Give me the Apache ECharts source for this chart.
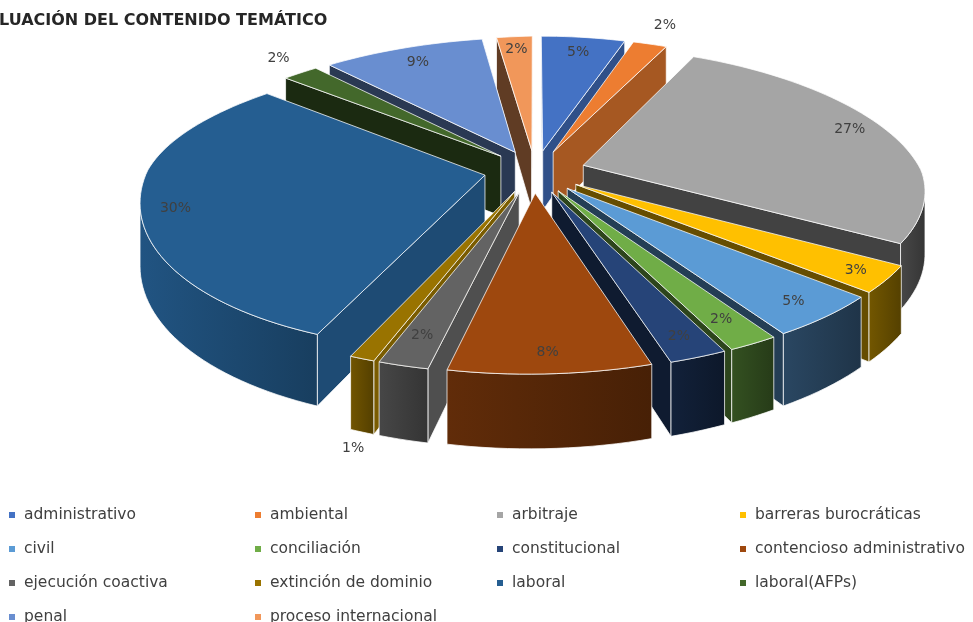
<!DOCTYPE html>
<html><head><meta charset="utf-8">
<style>html,body{margin:0;padding:0;background:#fff}#c{width:973px;height:622px}</style>
<script src="https://cdn.jsdelivr.net/npm/echarts@6/dist/echarts.min.js"></script>
</head><body><div id="c"></div>
<script>
const categories = ['administrativo','ambiental','arbitraje','barreras burocráticas','civil','conciliación','constitucional','contencioso administrativo','ejecución coactiva','extinción de dominio','laboral','laboral(AFPs)','penal','proceso internacional'];
const shares = [5,2,27,3,4.7,2,2.3,8,2,1,30,2,9,2];
const colors = ['#4472C4','#ED7D31','#A5A5A5','#FFC000','#5B9BD5','#70AD47','#264478','#9E480E','#636363','#997300','#255E91','#43682B','#698ED0','#F1975A'];
const legendColumns = [[0,4,8,12],[1,5,9,13],[2,6,10],[3,7,11]];
const legendX = [9,255,497,740];

const CX=535, CY=171, R=338, K=139, P=0.16, H=61, EXPLODE=0.15;
const labelFrac = [.85,1.2,.865,.91,.89,.86,.89,.9,.85,1,.9,1.14,.85,.87];
const labelNudge = {9:[-9,90],10:[0,6],2:[4,-4],11:[3,-4]};
const total = shares.reduce((a,b)=>a+b,0);
const starts=[]; shares.reduce((a,v,i)=>{starts[i]=a;return a+v;},0);

function proj(u,v,dy){
  const f=1/(1-v*P);
  let x=CX+u*R*f, y=CY+v*K*f+(dy||0)*f;
  if(v>0){ x+=11.5*v*v; y+=v*(6-10*u); }
  else { x+=16*v*Math.max(u,0); y+=Math.min(1,-v*1.5)*Math.max(-u,0)*6; }
  return [x,y];
}
function shade(hex,m){
  const n=parseInt(hex.slice(1),16);
  const c=[n>>16,(n>>8)&255,n&255].map(x=>Math.round(x*m));
  return 'rgb('+c.join(',')+')';
}
function rimShade(deg){
  const s=[[100,.39],[160,.42],[180,.55],[215,.72],[260,.8],[300,.8]];
  for(let i=1;i<s.length;i++) if(deg<=s[i][0]){
    const t=Math.max(0,(deg-s[i-1][0])/(s[i][0]-s[i-1][0]));
    return s[i-1][1]+t*(s[i][1]-s[i-1][1]);
  }
  return .8;
}
const line={stroke:'rgba(255,255,255,0.75)',lineWidth:1};

function faceShade(deg){
  if(deg<40) return 0.7;
  if(deg>180&&deg<280) return 0.8;
  return 0.4;
}
function renderSlice(idx,color){
  return function(params,api){
    const val=api.value(0);
    const a1=starts[idx]/total*2*Math.PI, a2=a1+val/total*2*Math.PI, mid=(a1+a2)/2;
    const ou=Math.sin(mid)*EXPLODE, ov=-Math.cos(mid)*EXPLODE;
    const pt=(r,a,dy)=>proj(ou+r*Math.sin(a),ov-r*Math.cos(a),dy);
    const n=Math.max(4,Math.ceil((a2-a1)/0.03));
    const arc=[]; for(let i=0;i<=n;i++) arc.push(a1+(a2-a1)*i/n);
    const apex=pt(0,0,0), apexB=pt(0,0,H);
    const children=[];
    const top=[apex].concat(arc.map(a=>pt(1,a,0)));
    [[a1,pt(1,a1,0)[0]<apex[0]],[a2,pt(1,a2,0)[0]>apex[0]]].forEach(([a,vis])=>{
      if(!vis) return;
      children.push({type:'polygon',shape:{points:[apex,pt(1,a,0),pt(1,a,H),apexB]},
        style:Object.assign({fill:shade(color,faceShade(a*180/Math.PI))},line)});
    });
    const run=[];
    for(let i=0;i<n;i++){
      if(pt(1,arc[i+1],0)[0]<pt(1,arc[i],0)[0]){ if(!run.length) run.push(arc[i]); run.push(arc[i+1]); }
    }
    if(run.length){
      const upper=run.map(a=>pt(1,a,0)), lower=run.map(a=>pt(1,a,H)).reverse();
      const mm=rimShade(mid*180/Math.PI);
      children.push({type:'polygon',shape:{points:upper.concat(lower)},
        style:Object.assign({fill:new echarts.graphic.LinearGradient(0,0,1,0,[
          {offset:0,color:shade(color,mm*1.12)},{offset:1,color:shade(color,mm*0.82)}])},line)});
    }
    children.push({type:'polygon',shape:{points:top},style:Object.assign({fill:color},line)});
    const lp=pt(labelFrac[idx],mid,0);
    const nudge=labelNudge[idx]||[0,0];
    children.push({type:'text',z2:100,style:{text:Math.round(val/total*100)+'%',x:lp[0]+nudge[0],y:lp[1]+nudge[1],
      align:'center',verticalAlign:'middle',fill:'#404040',fontSize:14,fontFamily:'DejaVu Sans'}});
    return {type:'group',children};
  };
}
const series=categories.map((name,i)=>{
  const m=(starts[i]+shares[i]/2)/total*2*Math.PI;
  return {type:'custom',name,coordinateSystem:'none',z:Math.round(10+(1-Math.cos(m))*100),
    itemStyle:{color:colors[i]},data:[[shares[i]]],silent:true,animation:false,
    renderItem:renderSlice(i,colors[i])};
});
const legends=legendColumns.map((col,i)=>({
  orient:'vertical',left:legendX[i],top:507,height:300,itemWidth:6,itemHeight:6,icon:'rect',itemGap:18,padding:0,
  selectedMode:false,data:col.map(k=>categories[k]),
  textStyle:{color:'#404040',fontSize:15.5,fontFamily:'DejaVu Sans',lineHeight:14.5,padding:[0,0,0,4]}
}));
const chart=echarts.init(document.getElementById('c'),null,{renderer:'canvas'});
chart.setOption({animation:false,backgroundColor:'#fff',
  title:{text:'LUACIÓN DEL CONTENIDO TEMÁTICO',left:-1,top:13,padding:0,
    textStyle:{fontSize:16,fontWeight:'bold',color:'#262626',fontFamily:'DejaVu Sans'}},
  legend:legends,series});
</script></body></html>
